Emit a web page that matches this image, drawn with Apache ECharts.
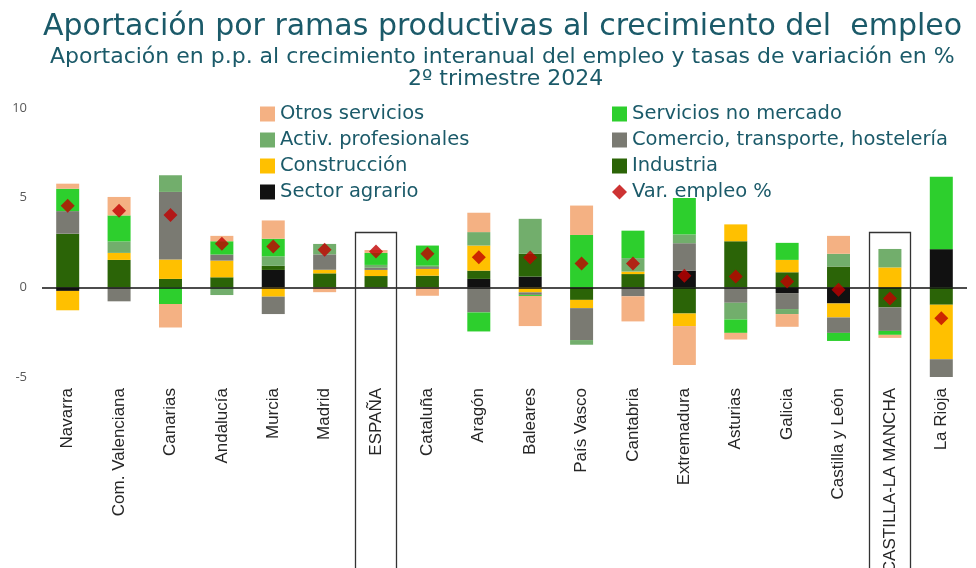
<!DOCTYPE html>
<html lang="es">
<head>
  <meta charset="UTF-8">
  <title>Aportación por ramas productivas</title>
  <style>
    * { margin: 0; padding: 0; }
    body { background: #ffffff; }
    #chart { width: 976px; height: 568px; }
  </style>
</head>
<body>
  <div id="chart"></div>
  <script src="https://cdn.jsdelivr.net/npm/echarts@6/dist/echarts.min.js"></script>
  <script type="text/javascript">
  var regions = ['Navarra', 'Com. Valenciana', 'Canarias', 'Andalucía', 'Murcia', 'Madrid', 'ESPAÑA',
    'Cataluña', 'Aragón', 'Baleares', 'País Vasco', 'Cantabria', 'Extremadura', 'Asturias',
    'Galicia', 'Castilla y León', 'CASTILLA-LA MANCHA', 'La Rioja'];

  // aportaciones en p.p.
  var agrario      = [-0.20, 0, 0, 0, 0.97, 0, 0, 0, 0.47, 0.60, 0, 0, 0.93, 0, -0.32, -0.90, 0, 2.13];
  var industria    = [2.99, 1.53, 0.47, 0.56, 0.23, 0.78, 0.63, 0.65, 0.46, 1.27, -0.70, 0.74, -1.46, 2.57, 0.84, 1.16, -1.12, -0.97];
  var construccion = [-1.08, 0.39, 1.08, 0.93, -0.52, 0.20, 0.34, 0.38, 1.40, -0.28, -0.46, 0.14, -0.70, 0.94, 0.69, -0.78, 1.11, -3.04];
  var comercio     = [1.26, -0.78, 3.77, 0.34, -0.97, 0.86, 0.12, 0.10, -1.40, -0.14, -1.78, -0.50, 1.53, -0.86, -0.89, -0.86, -1.31, -1.06];
  var profesionales = [0, 0.64, 0.93, -0.43, 0.53, 0.58, 0.16, 0.08, 0.75, 1.95, -0.26, 0.75, 0.49, -0.93, -0.28, 0.71, 1.03, 0];
  var noMercado    = [1.25, 1.45, -0.93, 0.74, 0.98, 0, 0.67, 1.12, -1.06, -0.06, 2.92, 1.53, 2.03, -0.75, 0.95, -0.45, -0.22, 4.03];
  var otros        = [0.28, 1.03, -1.31, 0.30, 1.02, -0.27, 0.16, -0.47, 1.08, -1.68, 1.64, -1.40, -2.17, -0.37, -0.71, 1.00, -0.17, 0];
  // tasa de variación del empleo %
  var varEmpleo    = [4.55, 4.27, 4.03, 2.43, 2.28, 2.09, 2.00, 1.87, 1.68, 1.66, 1.33, 1.33, 0.65, 0.60, 0.33, -0.13, -0.62, -1.72];

  var yTicks = [-5, 0, 5, 10];
  var boxed = ['ESPAÑA', 'CASTILLA-LA MANCHA'];
  var boxTop = 3.1;

  var teal = '#1b5a69';

  function main () {
    var chart = echarts.init(document.getElementById('chart'));

    var barSeries = [
      { name: 'Sector agrario', data: agrario, color: '#111111' },
      { name: 'Industria', data: industria, color: '#2b6407' },
      { name: 'Construcción', data: construccion, color: '#ffc000' },
      { name: 'Comercio, transporte, hostelería', data: comercio, color: '#7a7a72' },
      { name: 'Activ. profesionales', data: profesionales, color: '#72ae6c' },
      { name: 'Servicios no mercado', data: noMercado, color: '#2dcf2d' },
      { name: 'Otros servicios', data: otros, color: '#f4b183' }
    ].map(function (s, i) {
      var item = {
        name: s.name,
        type: 'bar',
        stack: 'total',
        barWidth: 23,
        data: s.data,
        itemStyle: { color: s.color }
      };
      if (i === 0) {
        item.markLine = {
          silent: true,
          symbol: 'none',
          label: { show: false },
          lineStyle: { color: '#111', width: 1.5, type: 'solid' },
          data: [{ yAxis: 0 }]
        };
      }
      return item;
    });

    var legendText = { color: teal, fontSize: 19.5, fontFamily: 'DejaVu Sans', lineHeight: 19 };

    var option = {
      animation: false,
      textStyle: { fontFamily: 'DejaVu Sans' },
      title: [
        { text: 'Aportación por ramas productivas al crecimiento del  empleo', left: 38, top: 7,
          textStyle: { color: teal, fontSize: 30, fontWeight: 'normal', fontFamily: 'DejaVu Sans' } },
        { text: 'Aportación en p.p. al crecimiento interanual del empleo y tasas de variación en %', left: 45, top: 41,
          textStyle: { color: teal, fontSize: 22, fontWeight: 'normal', fontFamily: 'DejaVu Sans' } },
        { text: '2º trimestre 2024', left: 403, top: 63,
          textStyle: { color: teal, fontSize: 22, fontWeight: 'normal', fontFamily: 'DejaVu Sans' } }
      ],
      legend: [
        { data: ['Otros servicios', 'Activ. profesionales', 'Construcción', 'Sector agrario'],
          orient: 'vertical', left: 255, top: 99, itemWidth: 15, itemHeight: 15, itemGap: 6,
          icon: 'rect', textStyle: legendText },
        { data: ['Servicios no mercado', 'Comercio, transporte, hostelería', 'Industria',
                 { name: 'Var. empleo %', icon: 'diamond' }],
          orient: 'vertical', left: 607, top: 99, itemWidth: 15, itemHeight: 15, itemGap: 6,
          icon: 'rect', textStyle: legendText }
      ],
      grid: { left: 42, right: 9, top: 108, bottom: 191, containLabel: false, outerBoundsMode: 'none' },
      xAxis: {
        type: 'category',
        data: regions,
        axisLine: { show: false },
        axisTick: { show: false },
        axisLabel: {
          interval: 0, rotate: 90, margin: 11, color: '#262626', fontSize: 17,
          fontFamily: 'Liberation Sans'
        }
      },
      yAxis: {
        type: 'value',
        min: yTicks[0], max: yTicks[yTicks.length - 1], interval: 5,
        axisLine: { show: false },
        axisTick: { show: false },
        splitLine: { show: false },
        axisLabel: { color: '#595959', fontSize: 13, margin: 15, fontFamily: 'Open Sans' }
      },
      series: barSeries.concat([{
        name: 'Var. empleo %',
        type: 'scatter',
        symbol: 'diamond',
        symbolSize: 14,
        data: varEmpleo,
        itemStyle: { color: '#c00000' },
        z: 5
      }])
    };
    chart.setOption(option);

    // recuadros de ESPAÑA y CASTILLA-LA MANCHA
    var band = chart.convertToPixel({ xAxisIndex: 0 }, regions[1]) - chart.convertToPixel({ xAxisIndex: 0 }, regions[0]);
    var yTop = chart.convertToPixel({ yAxisIndex: 0 }, boxTop);
    var boxW = band * 0.8;
    chart.setOption({
      graphic: boxed.map(function (name) {
        var cx = chart.convertToPixel({ xAxisIndex: 0 }, name);
        return {
          type: 'rect',
          silent: true,
          shape: { x: Math.round(cx - boxW / 2) + 0.5, y: Math.round(yTop) + 0.5, width: Math.round(boxW), height: 600 },
          style: { fill: 'none', stroke: '#333', lineWidth: 1.3 },
          z: 10
        };
      })
    });
  }

  window.addEventListener('load', main);
  </script>
</body>
</html>
